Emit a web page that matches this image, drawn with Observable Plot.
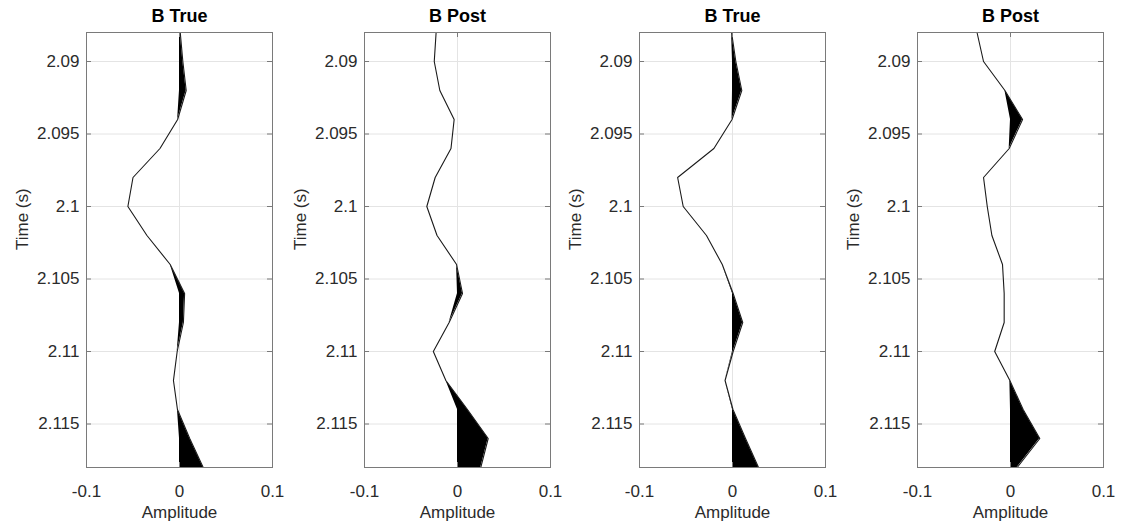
<!DOCTYPE html>
<html>
<head>
<meta charset="utf-8">
<script src="https://cdn.jsdelivr.net/npm/d3@7"></script>
<script src="https://cdn.jsdelivr.net/npm/@observablehq/plot@0.6"></script>
<style>
  html, body { margin: 0; padding: 0; background: #fff; }
  #wrap { position: relative; width: 1121px; height: 525px; overflow: hidden; }
  #wrap > svg { position: absolute; top: 0; overflow: visible; }
</style>
</head>
<body>
<div id="wrap"></div>
<script>
// ---- data ----
const titles = ["B True", "B Post", "B True", "B Post"];
const time = [2.088, 2.090, 2.092, 2.094, 2.096, 2.098, 2.100, 2.102, 2.104, 2.106, 2.108, 2.110, 2.112, 2.114, 2.116, 2.118];
const trace1 = [0.0008, 0.0036, 0.0072, -0.0020, -0.0210, -0.0500, -0.0555, -0.0350, -0.0100, 0.0055, 0.0042, -0.0025, -0.0065, -0.0022, 0.0110, 0.0255];
const trace2 = [-0.023, -0.025, -0.019, -0.0036, -0.007, -0.024, -0.033, -0.022, -0.001, 0.0054, -0.009, -0.026, -0.0125, 0.0107, 0.033, 0.025];
const trace3 = [-0.001, 0.0036, 0.010, -0.0005, -0.020, -0.059, -0.053, -0.028, -0.011, 0.0007, 0.011, 0.0007, -0.008, 0.0005, 0.014, 0.028];
const trace4 = [-0.036, -0.029, -0.006, 0.013, -0.0014, -0.029, -0.025, -0.020, -0.0086, -0.0068, -0.0068, -0.017, -0.0007, 0.0136, 0.0315, 0.0072];
const traces = [trace1, trace2, trace3, trace4];
const xTicks = [-0.1, 0, 0.1];
const xTickLabels = ["-0.1", "0", "0.1"];
const yTicks = [2.09, 2.095, 2.1, 2.105, 2.11, 2.115];
const yTickLabels = ["2.09", "2.095", "2.1", "2.105", "2.11", "2.115"];
const xLabel = "Amplitude";
const yLabel = "Time (s)";

// ---- layout ----
const lefts = [0, 278, 553, 831];
const W = 277, H = 525, mL = 86, mR = 5, mT = 32, mB = 58;
const plotW = W - mL - mR;
const plotH = H - mT - mB;
const font = "'Liberation Sans', Arial, Helvetica, sans-serif";
const txt = "#2b2b2b";

const wrap = document.getElementById("wrap");

traces.forEach((vals, k) => {
  const rows = time.map((t, i) => ({t, v: vals[i]}));
  // wiggle fill: positive samples fill from 0 to v; negative neighbours of a positive run close the polygon
  const fillRows = rows.map((r, i) => {
    const pos = r.v > 0;
    const prev = i > 0 && vals[i - 1] > 0;
    const next = i < vals.length - 1 && vals[i + 1] > 0;
    if (pos) return {t: r.t, b: 0, p: r.v};
    if (prev || next) return {t: r.t, b: r.v, p: r.v};
    return {t: r.t, b: NaN, p: NaN};
  });
  const yTickRows = yTicks.map((y, i) => ({y, label: yTickLabels[i]}));
  const xTickRows = xTicks.map((x, i) => ({x, label: xTickLabels[i]}));

  const svg = Plot.plot({
    width: W, height: H,
    marginLeft: mL, marginRight: mR, marginTop: mT, marginBottom: mB,
    style: {fontFamily: font, fontSize: "17px", background: "transparent", color: txt, overflow: "visible"},
    x: {domain: [-0.1, 0.1], axis: null},
    y: {domain: [2.088, 2.118], reverse: true, axis: null},
    marks: [
      Plot.ruleY(yTicks, {y: d => d, stroke: "#e4e4e4", strokeWidth: 1}),
      Plot.ruleX(xTicks, {x: d => d, stroke: "#e4e4e4", strokeWidth: 1}),
      Plot.areaX(fillRows, {y: "t", x1: "b", x2: "p", fill: "black", curve: "linear"}),
      Plot.lineX(rows, {x: "v", y: "t", stroke: "#1a1a1a", strokeWidth: 1.1, curve: "linear"}),
      // inward ticks
      Plot.ruleY(yTicks, {y: d => d, stroke: "#7a7a7a", insetRight: plotW - 5}),
      Plot.ruleY(yTicks, {y: d => d, stroke: "#7a7a7a", insetLeft: plotW - 5}),
      Plot.ruleX(xTicks, {x: d => d, stroke: "#7a7a7a", insetTop: plotH - 5}),
      Plot.ruleX(xTicks, {x: d => d, stroke: "#7a7a7a", insetBottom: plotH - 5}),
      Plot.frame({stroke: "#7a7a7a", strokeWidth: 1}),
      // tick labels
      Plot.text(yTickRows, {y: "y", text: "label", frameAnchor: "left", dx: -7, textAnchor: "end", lineAnchor: "middle", fill: txt, fontSize: 17}),
      Plot.text(xTickRows, {x: "x", text: "label", frameAnchor: "bottom", dy: 24, lineAnchor: "middle", fill: txt, fontSize: 17}),
      // axis labels
      Plot.text([xLabel], {frameAnchor: "bottom", dy: 45, lineAnchor: "middle", fill: txt, fontSize: 17}),
      Plot.text([yLabel], {frameAnchor: "left", dx: -64, rotate: -90, lineAnchor: "middle", fill: txt, fontSize: 17}),
      // title
      Plot.text([titles[k]], {frameAnchor: "top", dy: -16, lineAnchor: "middle", fill: "black", fontSize: 18, fontWeight: "bold"})
    ]
  });
  svg.style.left = lefts[k] + "px";
  svg.style.overflow = "visible";
  wrap.appendChild(svg);
});
</script>
</body>
</html>
